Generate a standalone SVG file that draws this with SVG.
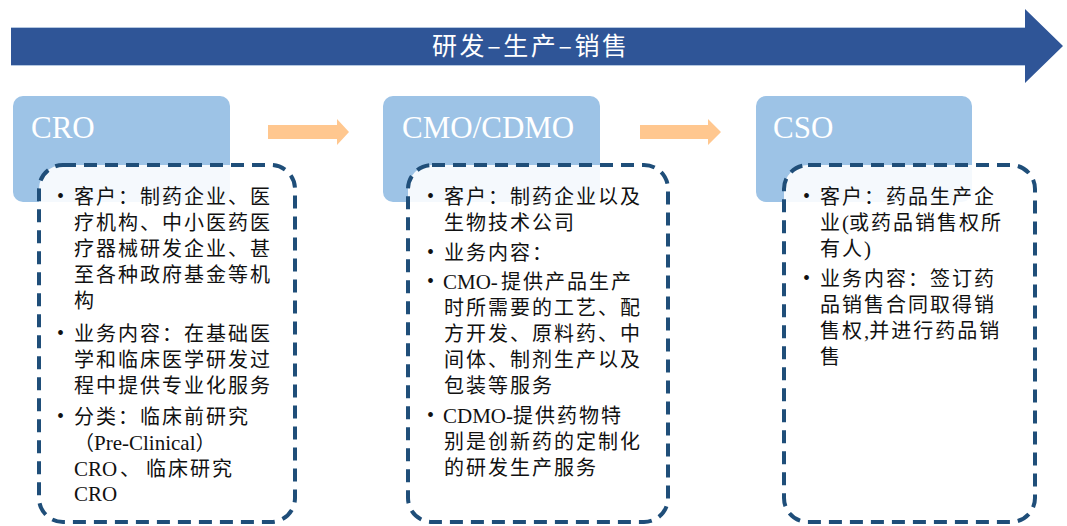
<svg xmlns="http://www.w3.org/2000/svg" width="1067" height="526" viewBox="0 0 1067 526">
<defs>
<style>
.hdr{fill:#9DC3E6;}
.card{fill:#FFFFFF;fill-opacity:0.9;stroke:#1F4E79;stroke-width:4;stroke-dasharray:13 8;}
.htxt{font-family:"Liberation Serif","Noto Sans CJK SC",serif;font-size:31px;fill:#FFFFFF;}
.body{font-family:"Liberation Serif","Noto Sans CJK SC",serif;font-size:20px;fill:#111111;letter-spacing:2px;}
.lat{font-size:21px;letter-spacing:0px;}
.bul{font-family:"Liberation Serif",serif;font-size:20px;fill:#111111;}
.orange{fill:#FFC78F;}
.title{font-family:"Noto Sans CJK SC",sans-serif;font-size:25px;fill:#FFFFFF;}
</style>
</defs>
<rect width="1067" height="526" fill="#FFFFFF"/>

<g id="banner">
<polygon points="11,28 1025,28 1025,9 1063,46 1025,83 1025,65 11,65" fill="#2F5597"/>
<line x1="11" y1="27.5" x2="1025" y2="27.5" stroke="#B4C7E0" stroke-width="1"/>
<line x1="11" y1="65.5" x2="1025" y2="65.5" stroke="#B4C7E0" stroke-width="1"/>
<text class="title" x="432" y="55" textLength="195" lengthAdjust="spacing">研发–生产–销售</text>
</g>

<g id="connectors">
<polygon class="orange" points="268,125 337,125 337,119 349,132 337,145 337,139 268,139"/>
<polygon class="orange" points="640,125 708,125 708,119 721,132 708,145 708,139 640,139"/>
</g>

<g id="node-cro">
<rect class="hdr" x="13" y="96" width="217" height="106" rx="10"/>
<text class="htxt" x="31" y="138">CRO</text>
<rect class="card" x="39" y="165" width="256" height="357" rx="24"/>
<g class="bul">
<text x="57" y="203">•</text>
<text x="57" y="340">•</text>
<text x="57" y="423">•</text>
</g>
<text class="body">
<tspan x="74" y="204">客户：制药企业、医</tspan>
<tspan x="74" y="230">疗机构、中小医药医</tspan>
<tspan x="74" y="256">疗器械研发企业、甚</tspan>
<tspan x="74" y="282">至各种政府基金等机</tspan>
<tspan x="74" y="308">构</tspan>
<tspan x="74" y="341">业务内容：在基础医</tspan>
<tspan x="74" y="367">学和临床医学研发过</tspan>
<tspan x="74" y="393">程中提供专业化服务</tspan>
<tspan x="74" y="424">分类：临床前研究</tspan>
<tspan x="74" y="450" letter-spacing="0">（</tspan><tspan class="lat">Pre-Clinical</tspan><tspan letter-spacing="0">）</tspan>
<tspan x="74" y="476" class="lat">CRO</tspan><tspan x="120" y="476">、</tspan><tspan x="146" y="476">临床研究</tspan>
<tspan x="74" y="501" class="lat">CRO</tspan>
</text>
</g>

<g id="node-cmo">
<rect class="hdr" x="383" y="96" width="217" height="106" rx="10"/>
<text class="htxt" x="402" y="138">CMO/CDMO</text>
<rect class="card" x="408" y="165" width="260" height="357" rx="24"/>
<g class="bul">
<text x="427" y="203">•</text>
<text x="427" y="259">•</text>
<text x="427" y="288">•</text>
<text x="427" y="422">•</text>
</g>
<text class="body">
<tspan x="444" y="204">客户：制药企业以及</tspan>
<tspan x="444" y="230">生物技术公司</tspan>
<tspan x="444" y="260">业务内容：</tspan>
<tspan x="443" y="289" class="lat">CMO-</tspan><tspan x="501" y="289">提供产品生产</tspan>
<tspan x="444" y="315">时所需要的工艺、配</tspan>
<tspan x="444" y="341">方开发、原料药、中</tspan>
<tspan x="444" y="367">间体、制剂生产以及</tspan>
<tspan x="444" y="393">包装等服务</tspan>
<tspan x="443" y="423" class="lat">CDMO-</tspan><tspan x="513" y="423">提供药物特</tspan>
<tspan x="444" y="449">别是创新药的定制化</tspan>
<tspan x="444" y="475">的研发生产服务</tspan>
</text>
</g>

<g id="node-cso">
<rect class="hdr" x="756" y="96" width="216" height="106" rx="10"/>
<text class="htxt" x="773" y="138">CSO</text>
<rect class="card" x="784" y="165" width="251" height="357" rx="24"/>
<g class="bul">
<text x="803" y="203">•</text>
<text x="803" y="285">•</text>
</g>
<text class="body">
<tspan x="820" y="204">客户：药品生产企</tspan>
<tspan x="820" y="230">业</tspan><tspan class="lat">(</tspan><tspan>或药品销售权所</tspan>
<tspan x="820" y="256">有人</tspan><tspan class="lat">)</tspan>
<tspan x="820" y="286">业务内容：签订药</tspan>
<tspan x="820" y="312">品销售合同取得销</tspan>
<tspan x="820" y="338">售权</tspan><tspan class="lat">,</tspan><tspan>并进行药品销</tspan>
<tspan x="820" y="364">售</tspan>
</text>
</g>
</svg>
